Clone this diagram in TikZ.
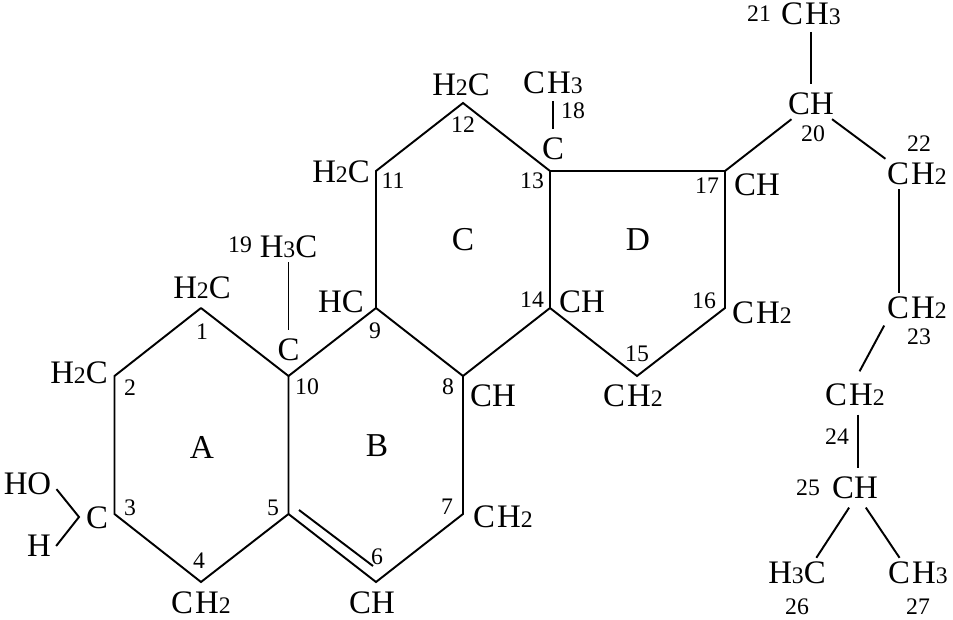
\documentclass[tikz,border=0pt]{standalone}
\usepackage{fontspec}
\setmainfont{Liberation Serif}
\newcommand{\low}[1]{{\fontsize{13.5}{13.5}\selectfont #1}}
\newcommand{\cgap}{C\kern1.2pt H}
\tikzset{
  atom/.style={inner xsep=2.8pt, inner ysep=0pt, text height=12.3pt+2.3pt, text depth=2.3pt, font=\fontsize{18.7}{20}\selectfont},
  num/.style={inner sep=0pt, font=\fontsize{13.5}{14}\selectfont},
  ringname/.style={inner sep=0pt, font=\fontsize{19}{20}\selectfont},
  bond/.style={line width=1.1pt}
}
\begin{document}
\begin{tikzpicture}[x=0.02cm,y=-0.02cm]
\useasboundingbox (0,0) rectangle (953,619);
% ring vertices
\coordinate (v1) at (201,308);
\coordinate (v2) at (114.5,376);
\coordinate (v3) at (114.5,514);
\coordinate (v4) at (201,582);
\coordinate (v5) at (288.5,514);
\coordinate (v6) at (376,582);
\coordinate (v7) at (463,514);
\coordinate (v8) at (463,376);
\coordinate (v9) at (376,308);
\coordinate (v10) at (288.5,376);
\coordinate (v11) at (376,171);
\coordinate (v12) at (463,103);
\coordinate (v13) at (550,171);
\coordinate (v14) at (550,308);
\coordinate (v15) at (637,376);
\coordinate (v16) at (725,308);
\coordinate (v17) at (725,171);
\coordinate (hbend) at (79,517);
\coordinate (db5) at (299,510);
\coordinate (db6) at (373,566);
% atoms
\node[atom] (h2c1) at (202,288) {H\low{2}C};
\node[atom] (h2c2) at (79,373) {H\low{2}C};
\node[atom] (c3) at (97,518) {C};
\node[atom] (ho) at (27.5,484) {HO};
\node[atom] (h3) at (39,546) {H};
\node[atom] (ch24) at (201,603) {\cgap\low{2}};
\node[atom] (ch6) at (372,603) {CH};
\node[atom] (ch27) at (503,517) {\cgap\low{2}};
\node[atom] (ch8) at (493,396) {CH};
\node[atom] (c10) at (288.5,350) {C};
\node[atom] (h3c19) at (288.5,247) {H\low{3}C};
\node[atom] (hc9) at (341,302) {HC};
\node[atom] (h2c11) at (341,172) {H\low{2}C};
\node[atom] (h2c12) at (461,85) {H\low{2}C};
\node[atom] (c13) at (553,149) {C};
\node[atom] (ch318) at (553,83) {\cgap\low{3}};
\node[atom] (ch14) at (582,302) {CH};
\node[atom] (ch215) at (633,396) {\cgap\low{2}};
\node[atom] (ch216) at (762,313) {\cgap\low{2}};
\node[atom] (ch17) at (757,185) {CH};
\node[atom] (ch20) at (811,104) {CH};
\node[atom] (ch321) at (811,14) {\cgap\low{3}};
\node[atom] (ch222) at (917,174) {\cgap\low{2}};
\node[atom] (ch223) at (917,308) {\cgap\low{2}};
\node[atom] (ch224) at (855,395) {\cgap\low{2}};
\node[atom] (ch25) at (855,488) {CH};
\node[atom] (h3c26) at (797,573) {H\low{3}C};
\node[atom] (ch327) at (918,573) {\cgap\low{3}};
% ring letters
\node[ringname] (ringA) at (202,447) {A};
\node[ringname] (ringB) at (377,446) {B};
\node[ringname] (ringC) at (463,240) {C};
\node[ringname] (ringD) at (638,240) {D};
% carbon numbers
\node[num] (n1) at (202,332) {1};
\node[num] (n2) at (130,388) {2};
\node[num] (n3) at (130,508) {3};
\node[num] (n4) at (199,561) {4};
\node[num] (n5) at (273,508) {5};
\node[num] (n6) at (377,557) {6};
\node[num] (n7) at (447,507) {7};
\node[num] (n8) at (448,387) {8};
\node[num] (n9) at (375,331) {9};
\node[num] (n10) at (307,387) {10};
\node[num] (n11) at (393,181) {11};
\node[num] (n12) at (463,125) {12};
\node[num] (n13) at (532,181) {13};
\node[num] (n14) at (532,300) {14};
\node[num] (n15) at (637,354) {15};
\node[num] (n16) at (704,301) {16};
\node[num] (n17) at (707,186) {17};
\node[num] (n18) at (573,111) {18};
\node[num] (n19) at (240,245) {19};
\node[num] (n20) at (813,134) {20};
\node[num] (n21) at (759,14) {21};
\node[num] (n22) at (919,144) {22};
\node[num] (n23) at (919,337) {23};
\node[num] (n24) at (837,437) {24};
\node[num] (n25) at (808,488) {25};
\node[num] (n26) at (797,607) {26};
\node[num] (n27) at (918,607) {27};
% rings
\draw[bond] (v1) -- (v2) -- (v3) -- (v4) -- (v5) -- (v10) -- (v1);
\draw[bond] (v10) -- (v9) -- (v8) -- (v7) -- (v6) -- (v5);
\draw[bond] (db5) -- (db6);
\draw[bond] (v9) -- (v11) -- (v12) -- (v13) -- (v14) -- (v8);
\draw[bond] (v13) -- (v17) -- (v16) -- (v15) -- (v14);
% side groups
\draw[bond] (ho.-10) -- (hbend) -- (h3.east);
\draw[bond,shorten >=3pt] (h3c19.south) -- (c10.north);
\draw[bond,shorten <=1.5pt,shorten >=3pt] (ch318.south) -- (c13.north);
\draw[bond] (v17) -- (ch20);
\draw[bond,shorten <=1.5pt,shorten >=3pt] (ch321.south) -- (ch20.north);
\draw[bond] ([xshift=-4pt]ch20.south east) -- ([xshift=2pt]ch222.north west);
\draw[bond] ([xshift=-10pt]ch222.south) -- ([xshift=-10pt]ch223.north);
\draw[bond,shorten <=1.5pt,shorten >=5.5pt] ([xshift=2pt]ch223.south west) -- (ch224.north);
\draw[bond,shorten <=2.5pt,shorten >=3pt] ([xshift=1.5pt]ch224.south) -- ([xshift=1.5pt]ch25.north);
\draw[bond,shorten <=3pt] ([xshift=-1.7pt]ch25.south) -- ([xshift=11pt]h3c26.north);
\draw[bond,shorten <=3pt] ([xshift=4.5pt]ch25.south) -- ([xshift=-10.5pt]ch327.north);
\end{tikzpicture}
\end{document}
